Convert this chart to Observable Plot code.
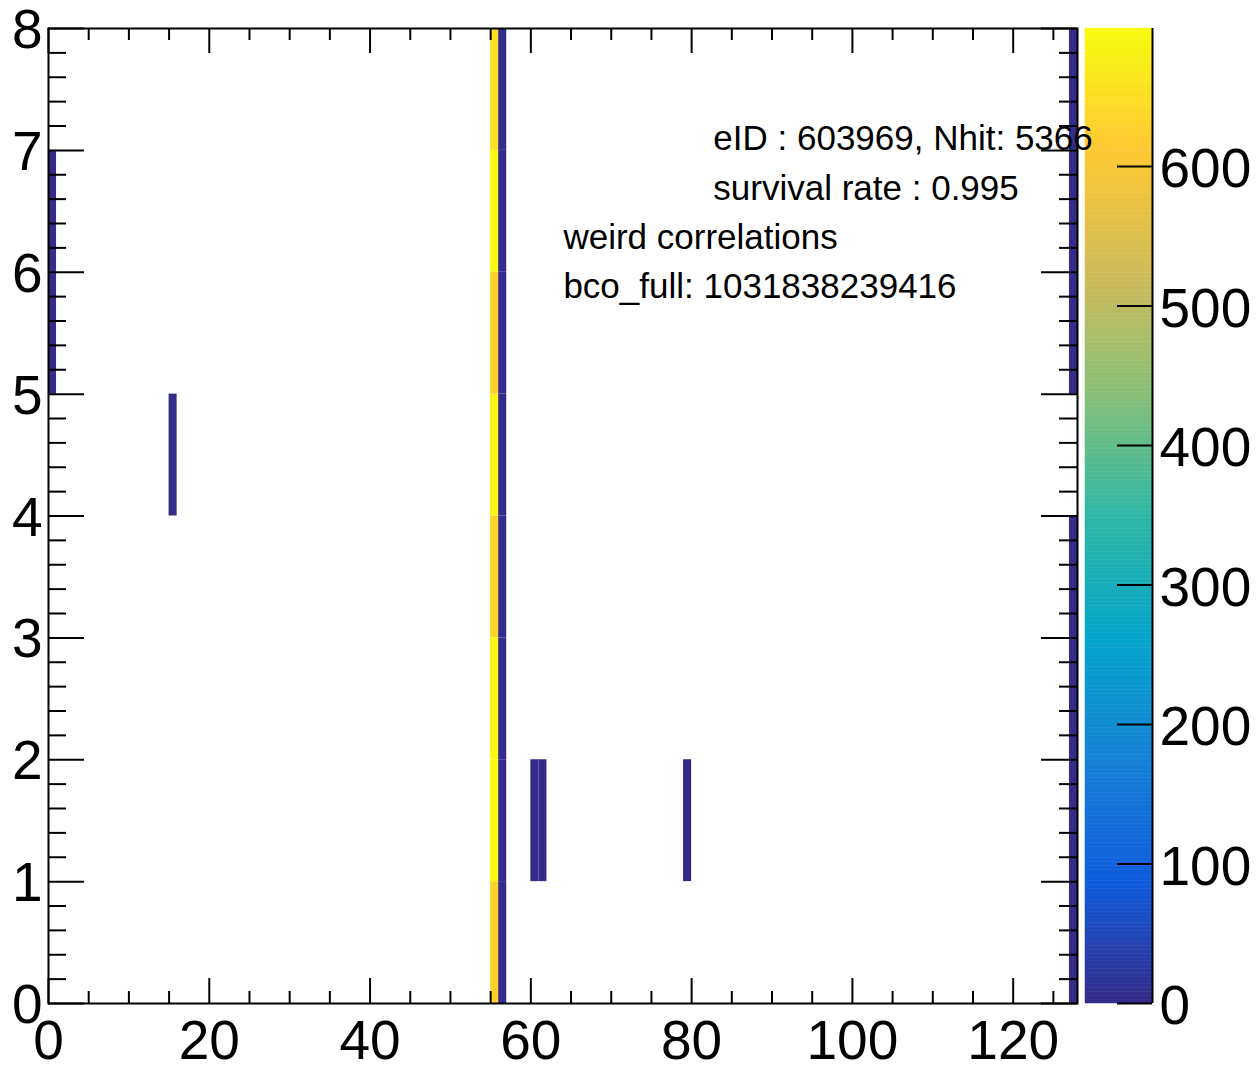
<!DOCTYPE html>
<html>
<head>
<meta charset="utf-8">
<script src="https://cdn.jsdelivr.net/npm/d3@7"></script>
<script src="https://cdn.jsdelivr.net/npm/@observablehq/plot@0.6"></script>
<style>
html, body { margin: 0; padding: 0; background: #fff; }
#wrap { position: relative; width: 1260px; height: 1065px; overflow: hidden; }
#wrap svg { position: absolute; top: 0; }
</style>
</head>
<body>
<div id="wrap"></div>
<script>
// ---- data ----
const cellChannel = [0, 0, 15,
  55, 55, 55, 55, 55, 55, 55, 55,
  56, 56, 56, 56, 56, 56, 56, 56,
  60, 61, 79,
  127, 127, 127, 127, 127, 127, 127];
const cellRow = [5, 6, 4,
  0, 1, 2, 3, 4, 5, 6, 7,
  0, 1, 2, 3, 4, 5, 6, 7,
  1, 1, 1,
  0, 1, 2, 3, 5, 6, 7];
const cellCount = [1, 1, 1,
  630, 698, 693, 632, 688, 628, 696, 655,
  1, 1, 1, 1, 1, 1, 1, 1,
  1, 1, 1,
  1, 1, 1, 1, 1, 1, 1];

const zMax = 699;
const xMajor = [0, 20, 40, 60, 80, 100, 120];
const xMinor = [5, 10, 15, 25, 30, 35, 45, 50, 55, 65, 70, 75, 85, 90, 95, 105, 110, 115, 125];
const yMajor = [0, 1, 2, 3, 4, 5, 6, 7, 8];
const yMinor = [0.2, 0.4, 0.6, 0.8, 1.2, 1.4, 1.6, 1.8, 2.2, 2.4, 2.6, 2.8, 3.2, 3.4, 3.6, 3.8,
  4.2, 4.4, 4.6, 4.8, 5.2, 5.4, 5.6, 5.8, 6.2, 6.4, 6.6, 6.8, 7.2, 7.4, 7.6, 7.8];
const zMajor = [0, 100, 200, 300, 400, 500, 600];

const noteText = ["eID : 603969, Nhit: 5366", "survival rate : 0.995", "weird correlations", "bco_full: 1031838239416"];
const noteX = [82.7, 82.7, 64.05, 64.05];
const noteY = [7.0, 6.59, 6.19, 5.785];

// ROOT kBird palette stops
const birdStops = [0.0, 0.125, 0.25, 0.375, 0.5, 0.625, 0.75, 0.875, 1.0];
const birdR = [0.2082, 0.0592, 0.0780, 0.0232, 0.1802, 0.5301, 0.8186, 0.9956, 0.9764];
const birdG = [0.1664, 0.3599, 0.5041, 0.6419, 0.7178, 0.7492, 0.7328, 0.7862, 0.9832];
const birdB = [0.5293, 0.8684, 0.8385, 0.7914, 0.6425, 0.4662, 0.3499, 0.1968, 0.0539];

// ---- build ----
const cells = cellChannel.map((c, i) => ({ch: c, row: cellRow[i], count: cellCount[i]}));
const notes = noteText.map((t, i) => ({text: t, x: noteX[i], y: noteY[i]}));
const birdColors = birdStops.map((s, i) => d3.rgb(birdR[i] * 255, birdG[i] * 255, birdB[i] * 255).formatHex());
const bird = d3.scaleLinear().domain(birdStops).range(birdColors).interpolate(d3.interpolateRgb).clamp(true);
const colorScale = {type: "linear", domain: [0, zMax], interpolate: t => bird(t)};

const FONT = "'Liberation Sans', Arial, Helvetica, sans-serif";
const W = 1260, H = 1065;
const mL = 48, mR = 183, mT = 28, mB = 62;
const FW = W - mL - mR, FH = H - mT - mB;

const main = Plot.plot({
  width: W, height: H,
  marginLeft: mL, marginRight: mR, marginTop: mT, marginBottom: mB,
  style: {background: "transparent", fontFamily: FONT, overflow: "visible"},
  x: {domain: [0, 128], axis: null},
  y: {domain: [0, 8], axis: null},
  color: colorScale,
  marks: [
    Plot.rect(cells, {x1: "ch", x2: d => d.ch + 1, y1: "row", y2: d => d.row + 1, fill: "count"}),
    // x ticks (bottom & top)
    Plot.ruleX(xMajor, {x: d => d, insetTop: FH - 25, stroke: "black", strokeWidth: 2}),
    Plot.ruleX(xMinor, {x: d => d, insetTop: FH - 12, stroke: "black", strokeWidth: 2}),
    Plot.ruleX(xMajor, {x: d => d, insetBottom: FH - 25, stroke: "black", strokeWidth: 2}),
    Plot.ruleX(xMinor, {x: d => d, insetBottom: FH - 12, stroke: "black", strokeWidth: 2}),
    // y ticks (left & right)
    Plot.ruleY(yMajor, {y: d => d, insetRight: FW - 36, stroke: "black", strokeWidth: 2}),
    Plot.ruleY(yMinor, {y: d => d, insetRight: FW - 18, stroke: "black", strokeWidth: 2}),
    Plot.ruleY(yMajor, {y: d => d, insetLeft: FW - 36, stroke: "black", strokeWidth: 2}),
    Plot.ruleY(yMinor, {y: d => d, insetLeft: FW - 18, stroke: "black", strokeWidth: 2}),
    Plot.frame({stroke: "black", strokeWidth: 2}),
    // tick labels
    Plot.text(xMajor, {x: d => d, text: d => String(d), frameAnchor: "bottom", lineAnchor: "top", dy: 16, fontSize: 55, fill: "black"}),
    Plot.text(yMajor, {y: d => d, text: d => String(d), frameAnchor: "left", textAnchor: "end", dx: -6, dy: 2, fontSize: 55, fill: "black"}),
    // annotations
    Plot.text(notes, {x: "x", y: "y", text: "text", textAnchor: "start", lineAnchor: "bottom", fontSize: 35, fill: "black"})
  ]
});

// colour bar
const nLevels = 255;
const levels = d3.range(nLevels).map(i => ({lo: i * zMax / nLevels, hi: (i + 1) * zMax / nLevels}));
const cbW = 175;
const bar = Plot.plot({
  width: cbW, height: H,
  marginLeft: 0, marginRight: 108, marginTop: mT, marginBottom: mB,
  style: {background: "white", fontFamily: FONT, overflow: "visible"},
  x: {domain: [0, 1], axis: null},
  y: {domain: [0, zMax], axis: null},
  color: colorScale,
  marks: [
    Plot.rect(levels, {x1: 0, x2: 1, y1: "lo", y2: "hi", fill: d => (d.lo + d.hi) / 2, stroke: d => (d.lo + d.hi) / 2, strokeWidth: 0.5}),
    Plot.ruleY(zMajor, {y: d => d, insetLeft: 67 - 35, stroke: "black", strokeWidth: 2}),
    Plot.ruleX([1], {x: d => d, stroke: "black", strokeWidth: 2}),
    Plot.text(zMajor, {y: d => d, text: d => String(d), frameAnchor: "right", textAnchor: "start", dx: 7, dy: 3, fontSize: 55, fill: "black"})
  ]
});

const wrap = document.getElementById("wrap");
bar.style.left = "1085px";
bar.style.position = "absolute";
main.style.left = "0px";
main.style.position = "absolute";
wrap.appendChild(bar);
wrap.appendChild(main);
</script>
</body>
</html>
